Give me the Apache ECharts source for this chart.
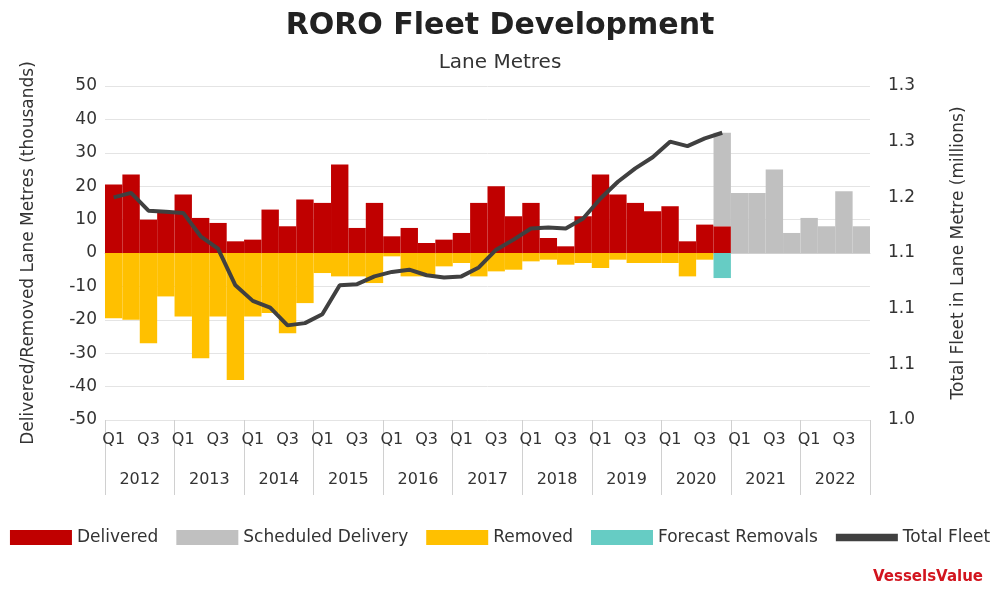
<!DOCTYPE html>
<html>
<head>
<meta charset="UTF-8" />
<title>RORO Fleet Development</title>
<style>
  * { margin: 0; padding: 0; }
</style>
</head>
<body>
<div id="main" style="width: 1000px; height: 598px;"></div>
<script src="https://cdn.jsdelivr.net/npm/echarts@6/dist/echarts.min.js"></script>
<script>
  // 数据
  const years = ["2012","2013","2014","2015","2016","2017","2018","2019","2020","2021","2022"];
  const quarters = [];
  years.forEach(function (y) { ["Q1","Q2","Q3","Q4"].forEach(function (q) { quarters.push(q); }); });

  const delivered = [20.5,23.5,10,12.5, 17.5,10.5,9,3.5, 4,13,8,16, 15,26.5,7.5,15,
    5,7.5,3,4, 6,15,20,11, 15,4.5,2,11, 23.5,17.5,15,12.5, 14,3.5,8.5,8];
  const scheduled = [null,null,null,null,null,null,null,null,null,null,null,null,null,null,null,null,
    null,null,null,null,null,null,null,null,null,null,null,null,null,null,null,null,
    null,null,null,28, 18,18,25,6, 10.5,8,18.5,8];
  const removed = [-19.5,-20,-27,-13, -19,-31.5,-19,-38, -19,-18,-24,-15, -6,-7,-7,-9,
    -1,-7,-7,-4, -3,-7,-5.5,-5, -2.5,-2,-3.5,-3, -4.5,-2,-3,-3, -3,-7,-2,0];
  const forecastRemovals = [null,null,null,null,null,null,null,null,null,null,null,null,null,null,null,null,
    null,null,null,null,null,null,null,null,null,null,null,null,null,null,null,null,
    null,null,null,-7.5];
  const totalFleet = [1.200,1.204,1.188,1.187, 1.186,1.165,1.154,1.121, 1.107,1.101,1.085,1.087,
    1.095,1.121,1.122,1.129, 1.133,1.135,1.130,1.128, 1.129,1.137,1.153,1.162,
    1.172,1.173,1.172,1.181, 1.199,1.214,1.226,1.236, 1.250,1.246,1.253,1.258];

  const font = "DejaVu Sans";
  let myEcharts = echarts.init(document.getElementById("main"));
  let option = {
    textStyle: { fontFamily: font },
    title: [
      { text: "RORO Fleet Development", left: "center", top: 6,
        textStyle: { fontSize: 30, fontWeight: "bold", color: "#222", fontFamily: font } },
      { text: "Lane Metres", left: "center", top: 48,
        textStyle: { fontSize: 20, fontWeight: "normal", color: "#333", fontFamily: font } },
      { text: "VesselsValue", right: 12, bottom: 8,
        textStyle: { fontSize: 15, fontWeight: "bold", color: "#d2141e", fontFamily: font } }
    ],
    legend: {
      bottom: 47, left: "center", itemGap: 18, itemWidth: 62, itemHeight: 15,
      textStyle: { fontSize: 17, color: "#333" },
      itemStyle: { borderRadius: 0 },
      data: [
        { name: "Delivered", icon: "rect" },
        { name: "Scheduled Delivery", icon: "rect" },
        { name: "Removed", icon: "rect" },
        { name: "Forecast Removals", icon: "rect" },
        { name: "Total Fleet", icon: "path://M0,0 L10,0 L10,1.2 L0,1.2 Z" }]
    },
    grid: { left: 105, right: 130, top: 86, bottom: 178 },
    xAxis: [
      {
        type: "category", data: quarters, position: "bottom",
        axisLine: { lineStyle: { color: "#d0d0d0" } },
        axisTick: { show: false },
        axisLabel: { interval: 1, fontSize: 16, color: "#333", margin: 12 }
      },
      {
        type: "category", data: years, position: "bottom", offset: 0,
        axisLine: { show: false },
        axisTick: { show: true, length: 75, inside: false, interval: 0, lineStyle: { color: "#d0d0d0" } },
        axisLabel: { fontSize: 16, color: "#333", margin: 52, interval: 0 }
      }
    ],
    yAxis: [
      {
        type: "value", min: -50, max: 50, interval: 10,
        name: "Delivered/Removed Lane Metres (thousands)", nameLocation: "middle", nameGap: 68,
        nameTextStyle: { fontSize: 17, color: "#333" },
        axisLabel: { fontSize: 17, color: "#333" },
        splitLine: { lineStyle: { color: "#e4e4e4" } }
      },
      {
        type: "value", min: 1.0, max: 1.3, interval: 0.05,
        name: "Total Fleet in Lane Metre (millions)", nameLocation: "middle", nameGap: 80,
        nameTextStyle: { fontSize: 17, color: "#333" },
        axisLabel: { fontSize: 17, color: "#333", margin: 18, formatter: function (v) { return v.toFixed(1); } },
        splitLine: { show: false }
      }
    ],
    series: [
      { name: "Delivered", type: "bar", stack: "a", data: delivered, barCategoryGap: "0%",
        itemStyle: { color: "#c00000" } },
      { name: "Scheduled Delivery", type: "bar", stack: "a", data: scheduled,
        itemStyle: { color: "#c0c0c0" } },
      { name: "Removed", type: "bar", stack: "a", data: removed,
        itemStyle: { color: "#ffc000" } },
      { name: "Forecast Removals", type: "bar", stack: "a", data: forecastRemovals,
        itemStyle: { color: "#66ccc4" } },
      { name: "Total Fleet", type: "line", yAxisIndex: 1, data: totalFleet, symbol: "none",
        lineStyle: { color: "#404040", width: 4 }, itemStyle: { color: "#404040" } }
    ]
  };
  myEcharts.setOption(option);
</script>
</body>
</html>
